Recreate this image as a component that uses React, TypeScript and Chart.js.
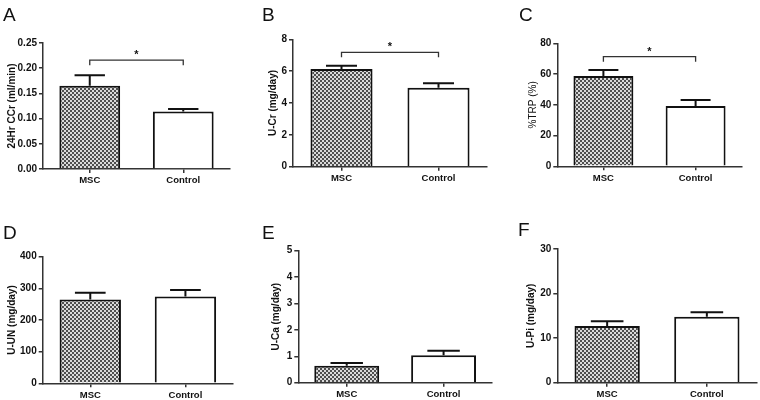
import React, { useEffect, useRef } from 'react';
import { Chart, registerables } from 'chart.js';

Chart.register(...registerables);

const categories = ['MSC', 'Control'];
const panelLetters = ['A', 'B', 'C', 'D', 'E', 'F'];
const yTitles = ['24Hr CCr (ml/min)', 'U-Cr (mg/day)', '%TRP (%)', 'U-UN (mg/day)', 'U-Ca (mg/day)', 'U-Pi (mg/day)'];
const yMax = [0.25, 8, 80, 400, 5, 30];
const yStep = [0.05, 2, 20, 100, 1, 10];
const tickDecimals = [2, 0, 0, 0, 0, 0];
const mscMeans = [0.165, 6.13, 58.7, 265, 0.64, 12.7];
const mscSem = [0.021, 0.21, 3.9, 21, 0.11, 1.1];
const controlMeans = [0.114, 4.96, 39.2, 274, 1.04, 14.8];
const controlSem = [0.005, 0.28, 3.9, 21, 0.17, 1.0];
const bracketValues: (number | null)[] = [0.216, 7.18, 71.3, null, null, null];
const bracketLabels: (string | null)[] = ['*', '*', '*', null, null, null];

const FONT = '"Liberation Sans", Arial, Helvetica, sans-serif';

const panelLayout = [
  { axisX: 43, right: 230, top: 43, bottom: 169, titleX: 12.5, barPct: 0.65, titleWeight: 'bold', letterX: 3, letterY: 4.5 },
  { axisX: 293, right: 487, top: 39.3, bottom: 166.7, titleX: 273, barPct: 0.64, titleWeight: 'bold', letterX: 262, letterY: 4.5 },
  { axisX: 557.3, right: 741.7, top: 43.3, bottom: 166.3, titleX: 533.3, barPct: 0.65, titleWeight: 'normal', letterX: 519, letterY: 4.5 },
  { axisX: 42.7, right: 233, top: 256.7, bottom: 383.3, titleX: 12, barPct: 0.645, titleWeight: 'bold', letterX: 3, letterY: 222.5 },
  { axisX: 298.3, right: 492, top: 250.7, bottom: 382.7, titleX: 276, barPct: 0.67, titleWeight: 'bold', letterX: 262, letterY: 222.5 },
  { axisX: 557.3, right: 756.7, top: 249, bottom: 382.7, titleX: 531, barPct: 0.655, titleWeight: 'bold', letterX: 518, letterY: 220 },
];

function Panel({ i }: { i: number }) {
  const ref = useRef<HTMLCanvasElement>(null);
  useEffect(() => {
    const canvas = ref.current!;
    const ctx = canvas.getContext('2d')!;
    const pc = document.createElement('canvas');
    pc.width = 4;
    pc.height = 4;
    const pctx = pc.getContext('2d')!;
    pctx.fillStyle = '#dadada';
    pctx.fillRect(0, 0, 4, 4);
    pctx.fillStyle = '#4e4e4e';
    pctx.fillRect(0, 0, 2, 2);
    pctx.fillRect(2, 2, 2, 2);
    const pattern = ctx.createPattern(pc, 'repeat')!;

    const L = panelLayout[i];
    const titleHalf = 6;
    const padLeft = L.titleX - titleHalf;
    const yWidth = L.axisX - padLeft;
    const xHeight = 25;
    const means = [mscMeans[i], controlMeans[i]];
    const sems = [mscSem[i], controlSem[i]];

    const errorPlugin = {
      id: 'errorBars' + i,
      afterDatasetsDraw(chart: any) {
        const c = chart.ctx;
        const meta = chart.getDatasetMeta(0);
        const ys = chart.scales.y;
        c.save();
        c.strokeStyle = '#111';
        c.lineWidth = 2;
        meta.data.forEach((el: any, k: number) => {
          const yTop = ys.getPixelForValue(means[k] + sems[k]);
          const half = el.width / 4;
          c.beginPath();
          c.moveTo(el.x, el.y);
          c.lineTo(el.x, yTop);
          c.moveTo(el.x - half, yTop);
          c.lineTo(el.x + half, yTop);
          c.stroke();
        });
        const bv = bracketValues[i];
        if (bv !== null) {
          const xs = chart.scales.x;
          const x0 = xs.getPixelForValue(0);
          const x1 = xs.getPixelForValue(1);
          const py = ys.getPixelForValue(bv);
          c.strokeStyle = '#333';
          c.lineWidth = 1.3;
          c.beginPath();
          c.moveTo(x0, py + 5);
          c.lineTo(x0, py);
          c.lineTo(x1, py);
          c.lineTo(x1, py + 5);
          c.stroke();
          c.fillStyle = '#111';
          c.font = 'bold 11px ' + FONT;
          c.textAlign = 'center';
          c.textBaseline = 'alphabetic';
          c.fillText(bracketLabels[i] || '', (x0 + x1) / 2, py - 2);
        }
        c.restore();
      },
    };

    const chart = new Chart(canvas, {
      type: 'bar',
      data: {
        labels: categories,
        datasets: [
          {
            data: means,
            backgroundColor: [pattern as any, '#ffffff'],
            borderColor: '#111',
            borderWidth: 2,
            barPercentage: L.barPct,
            categoryPercentage: 1,
          },
        ],
      },
      options: {
        responsive: false,
        animation: false,
        devicePixelRatio: 1,
        layout: {
          padding: { left: padLeft, top: L.top, right: 760 - L.right, bottom: 400 - L.bottom - xHeight },
        },
        plugins: { legend: { display: false }, tooltip: { enabled: false } },
        scales: {
          x: {
            afterFit: (s: any) => {
              s.height = xHeight;
            },
            grid: { display: true, drawOnChartArea: false, offset: false, tickLength: 4, color: '#333', lineWidth: 1.5 },
            border: { display: true, color: '#333', width: 1.5 },
            ticks: { color: '#111', padding: 2, font: { family: FONT, size: 9.5, weight: 'bold' } },
          },
          y: {
            min: 0,
            max: yMax[i],
            afterFit: (s: any) => {
              s.width = yWidth;
            },
            ticks: {
              stepSize: yStep[i],
              padding: 2,
              color: '#111',
              font: { family: FONT, size: 10, weight: 'bold' },
              callback: (v: any) => Number(v).toFixed(tickDecimals[i]),
            },
            grid: { display: true, drawOnChartArea: false, tickLength: 4, color: '#333', lineWidth: 1.5 },
            border: { display: true, color: '#333', width: 1.5 },
            title: {
              display: true,
              text: yTitles[i],
              padding: 0,
              color: '#111',
              font: { family: FONT, size: 10, weight: L.titleWeight as any },
            },
          },
        },
      },
      plugins: [errorPlugin],
    });
    return () => chart.destroy();
  }, [i]);

  const L = panelLayout[i];
  return (
    <>
      <canvas
        ref={ref}
        width={760}
        height={400}
        style={{ position: 'absolute', left: 0, top: 0, width: 760, height: 400 }}
      />
      <div
        style={{
          position: 'absolute',
          left: L.letterX,
          top: L.letterY,
          fontFamily: FONT,
          fontSize: 19,
          lineHeight: '19px',
          color: '#111',
        }}
      >
        {panelLetters[i]}
      </div>
    </>
  );
}

export default function App() {
  return (
    <div style={{ position: 'absolute', left: 0, top: 0, width: 760, height: 400, background: '#ffffff', overflow: 'hidden' }}>
      {panelLetters.map((_, i) => (
        <Panel key={i} i={i} />
      ))}
    </div>
  );
}
